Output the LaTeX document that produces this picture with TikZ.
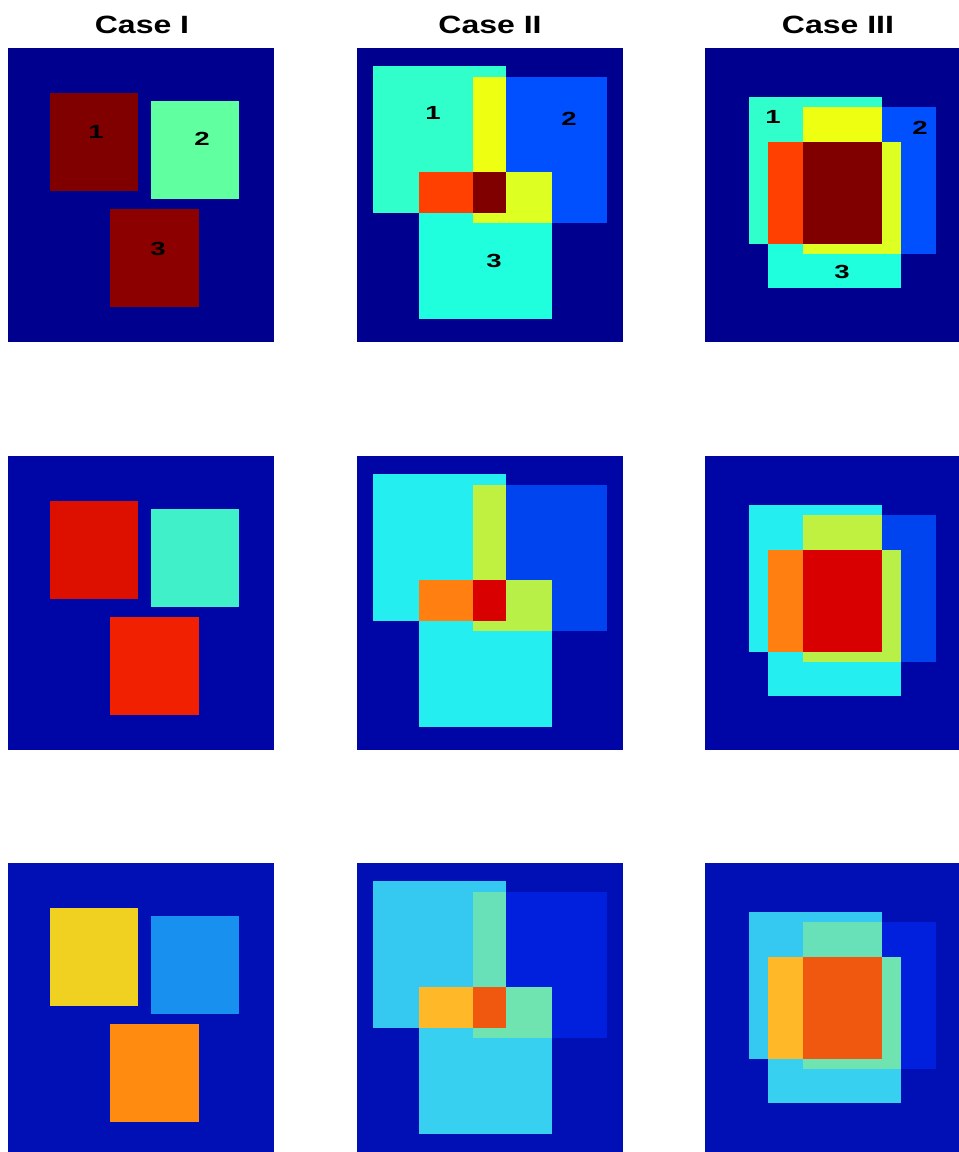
\documentclass[tikz,border=0pt]{standalone}
\usepackage{fontspec}
\setmainfont{Liberation Sans}
\usetikzlibrary{positioning}
\usepackage{xcolor}
% row A: clean, row B: low noise, row C: high noise
\definecolor{bgA}{HTML}{00008F}
\definecolor{IoneA}{HTML}{800000}
\definecolor{ItwoA}{HTML}{60FF9F}
\definecolor{IthreeA}{HTML}{8C0000}
\definecolor{ConeA}{HTML}{30FFCC}
\definecolor{CtwoA}{HTML}{0050FF}
\definecolor{CthreeA}{HTML}{20FFDD}
\definecolor{CotA}{HTML}{EEFF11}
\definecolor{CothA}{HTML}{FF4000}
\definecolor{CttA}{HTML}{DDFF22}
\definecolor{CallA}{HTML}{800000}
\definecolor{bgB}{HTML}{0005A5}
\definecolor{IoneB}{HTML}{DD1000}
\definecolor{ItwoB}{HTML}{40F0C8}
\definecolor{IthreeB}{HTML}{F02000}
\definecolor{ConeB}{HTML}{25EEF0}
\definecolor{CtwoB}{HTML}{0044F0}
\definecolor{CthreeB}{HTML}{25EEF0}
\definecolor{CotB}{HTML}{C0F040}
\definecolor{CothB}{HTML}{FF8010}
\definecolor{CttB}{HTML}{B8F048}
\definecolor{CallB}{HTML}{D80000}
\definecolor{bgC}{HTML}{0010B5}
\definecolor{IoneC}{HTML}{F0D020}
\definecolor{ItwoC}{HTML}{1890F0}
\definecolor{IthreeC}{HTML}{FF8C10}
\definecolor{ConeC}{HTML}{35C8F0}
\definecolor{CtwoC}{HTML}{0020DD}
\definecolor{CthreeC}{HTML}{38D0F0}
\definecolor{CotC}{HTML}{68E0B8}
\definecolor{CothC}{HTML}{FFB828}
\definecolor{CttC}{HTML}{70E4B0}
\definecolor{CallC}{HTML}{F05810}

\begin{document}
\begin{tikzpicture}[x=1pt, y=-1pt,
  title/.style={font=\bfseries\fontsize{25}{25}\selectfont, anchor=base, inner sep=0pt},
  num/.style={font=\bfseries\fontsize{19}{19}\selectfont, text=black, inner sep=0pt}
]
  \useasboundingbox (0,0) rectangle (959,1152);
  \node[title] (tI)   at (142,33) {\scalebox{1.28}[1]{Case I}};
  \node[title] (tII)  at (490,33) {\scalebox{1.28}[1]{Case II}};
  \node[title] (tIII) at (838,33) {\scalebox{1.28}[1]{Case III}};
  \foreach \r/\dy in {A/0,B/408,C/815}{
    \begin{scope}[shift={(0,\dy)}]
      % Case I
      \fill[bg\r] (8,48) rectangle (274,342);
      \fill[Ione\r] (50,93) rectangle (138,191);
      \fill[Itwo\r] (151,101) rectangle (239,199);
      \fill[Ithree\r] (110,209) rectangle (199,307);
      % Case II
      \fill[bg\r] (357,48) rectangle (623,342);
      \fill[Cone\r] (373,66) rectangle (506,213);
      \fill[Ctwo\r] (473,77) rectangle (607,223);
      \fill[Cthree\r] (419,172) rectangle (552,319);
      \fill[Cot\r] (473,77) rectangle (506,213);
      \fill[Coth\r] (419,172) rectangle (506,213);
      \fill[Ctt\r] (473,172) rectangle (552,223);
      \fill[Call\r] (473,172) rectangle (506,213);
      % Case III
      \fill[bg\r] (705,48) rectangle (959,342);
      \fill[Cone\r] (749,97) rectangle (882,244);
      \fill[Ctwo\r] (803,107) rectangle (936,254);
      \fill[Cthree\r] (768,142) rectangle (901,288);
      \fill[Cot\r] (803,107) rectangle (882,244);
      \fill[Coth\r] (768,142) rectangle (882,244);
      \fill[Ctt\r] (803,142) rectangle (901,254);
      \fill[Call\r] (803,142) rectangle (882,244);
    \end{scope}
  }
  \node[num] (aI)   at (96,132)  {\scalebox{1.45}[1]{1}};
  \node[num] (bI)   at (202,139) {\scalebox{1.45}[1]{2}};
  \node[num] (cI)   at (158,249) {\scalebox{1.45}[1]{3}};
  \node[num] (aII)  at (433,113) {\scalebox{1.45}[1]{1}};
  \node[num] (bII)  at (569,119) {\scalebox{1.45}[1]{2}};
  \node[num] (cII)  at (494,261) {\scalebox{1.45}[1]{3}};
  \node[num] (aIII) at (773,117) {\scalebox{1.45}[1]{1}};
  \node[num] (bIII) at (920,128) {\scalebox{1.45}[1]{2}};
  \node[num] (cIII) at (842,272) {\scalebox{1.45}[1]{3}};
\end{tikzpicture}
\end{document}
